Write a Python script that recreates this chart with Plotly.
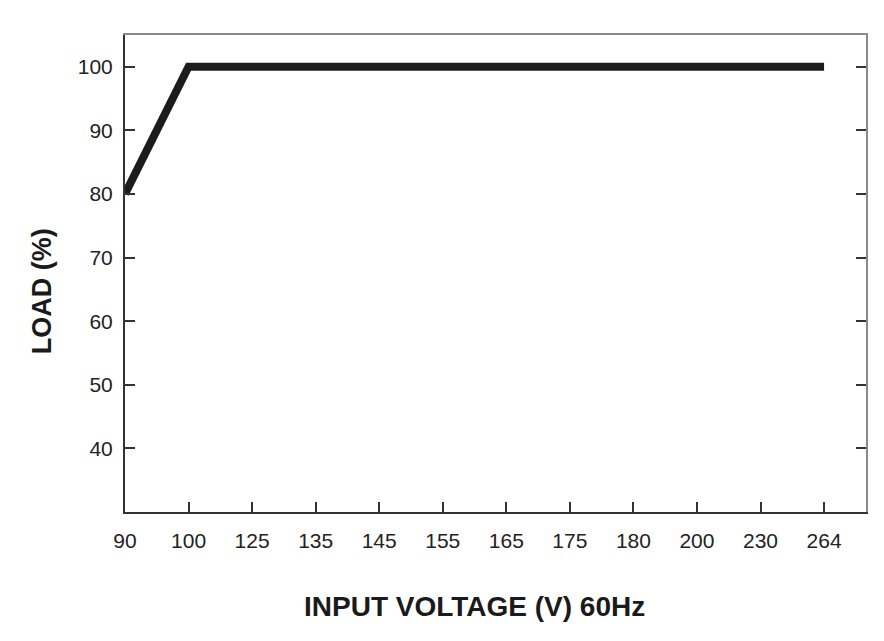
import plotly.graph_objects as go

# x axis is not to scale: each voltage gets an equal slot
voltage_ticks = ["90", "100", "125", "135", "145", "155", "165", "175", "180", "200", "230", "264"]
curve_voltage = ["90", "100", "264"]
curve_load = [80, 100, 100]
load_ticks = [40, 50, 60, 70, 80, 90, 100]

FONT = "Liberation Sans, Arial"

fig = go.Figure()
fig.add_trace(
    go.Scatter(
        x=curve_voltage,
        y=curve_load,
        mode="lines",
        line=dict(color="#1c1c1c", width=8),
        hoverinfo="skip",
    )
)
# invisible copy used only to draw the grey top/right frame with inward ticks
fig.add_trace(
    go.Scatter(
        x=curve_voltage,
        y=curve_load,
        mode="lines",
        line=dict(width=0),
        xaxis="x2",
        yaxis="y2",
        hoverinfo="skip",
    )
)

x_range = [0, 11.66]
y_range = [30, 105]

fig.update_layout(
    width=884,
    height=641,
    margin=dict(l=117, r=26, t=27, b=137),
    paper_bgcolor="white",
    plot_bgcolor="white",
    showlegend=False,
    font=dict(family=FONT, color="#222222"),
    xaxis=dict(
        type="category",
        categoryorder="array",
        categoryarray=voltage_ticks,
        tickvals=voltage_ticks,
        range=x_range,
        automargin=False,
        showgrid=False,
        zeroline=False,
        showline=True,
        linecolor="#333333",
        linewidth=2,
        ticks="inside",
        ticklen=10,
        tickwidth=1.5,
        tickcolor="#333333",
        tickfont=dict(size=21, family=FONT, color="#222222"),
        ticklabelstandoff=9,
    ),
    yaxis=dict(
        range=y_range,
        tickvals=load_ticks,
        automargin=False,
        showgrid=False,
        zeroline=False,
        showline=True,
        linecolor="#333333",
        linewidth=2,
        ticks="inside",
        ticklen=10,
        tickwidth=1.5,
        tickcolor="#333333",
        tickfont=dict(size=21, family=FONT, color="#222222"),
        ticklabelstandoff=6,
    ),
    xaxis2=dict(
        type="category",
        categoryorder="array",
        categoryarray=voltage_ticks,
        range=x_range,
        overlaying="x",
        side="top",
        showgrid=False,
        zeroline=False,
        showline=True,
        linecolor="#8a8a8a",
        linewidth=1.5,
        ticks="",
        showticklabels=False,
    ),
    yaxis2=dict(
        range=y_range,
        tickvals=load_ticks,
        overlaying="y",
        side="right",
        showgrid=False,
        zeroline=False,
        showline=True,
        linecolor="#8a8a8a",
        linewidth=1.5,
        ticks="inside",
        ticklen=10,
        tickwidth=1.5,
        tickcolor="#333333",
        showticklabels=False,
    ),
)

# axis titles sit a little off-centre in the original, so place them as annotations
fig.add_annotation(
    text="<b>INPUT VOLTAGE (V) 60Hz</b>",
    xref="paper", yref="paper",
    x=0.472, y=-0.199,
    xanchor="center", yanchor="middle",
    showarrow=False,
    font=dict(size=28, family=FONT, color="#1a1a1a"),
)
fig.add_annotation(
    text="<b>LOAD (%)</b>",
    xref="paper", yref="paper",
    x=-0.112, y=0.463,
    xanchor="center", yanchor="middle",
    textangle=-90,
    showarrow=False,
    font=dict(size=27, family=FONT, color="#1a1a1a"),
)

fig.write_html("out.html")
